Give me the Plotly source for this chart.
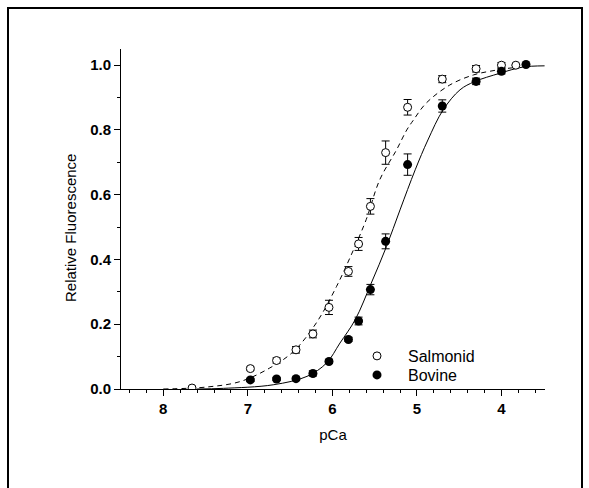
import plotly.graph_objects as go

# ---- data ----
salmonid_pca = [7.66, 6.97, 6.66, 6.43, 6.23, 6.04, 5.81, 5.69, 5.55, 5.37, 5.11, 4.70, 4.30, 4.00, 3.83]
salmonid_val = [0.003, 0.063, 0.088, 0.121, 0.170, 0.252, 0.363, 0.448, 0.564, 0.730, 0.870, 0.957, 0.989, 1.000, 1.000]
salmonid_err = [0.0, 0.005, 0.008, 0.010, 0.012, 0.022, 0.015, 0.020, 0.024, 0.036, 0.024, 0.011, 0.010, 0.008, 0.0]

bovine_pca = [6.97, 6.66, 6.43, 6.23, 6.04, 5.81, 5.69, 5.55, 5.37, 5.11, 4.70, 4.30, 4.00, 3.71]
bovine_val = [0.028, 0.031, 0.032, 0.048, 0.085, 0.153, 0.210, 0.307, 0.456, 0.693, 0.874, 0.950, 0.981, 1.002]
bovine_err = [0.005, 0.005, 0.005, 0.008, 0.006, 0.006, 0.012, 0.016, 0.023, 0.033, 0.019, 0.010, 0.008, 0.0]

# fitted curves
salmonid_fit_pca = [8.00, 7.49, 7.09, 6.74, 6.46, 6.19, 5.95, 5.75, 5.60, 5.44, 5.24, 5.12, 5.04, 4.89, 4.61, 4.33, 4.10, 3.90, 3.80]
salmonid_fit_val = [0.000, 0.006, 0.023, 0.065, 0.116, 0.204, 0.317, 0.430, 0.523, 0.646, 0.739, 0.800, 0.831, 0.883, 0.939, 0.970, 0.983, 0.991, 0.993]

bovine_fit_pca = [7.60, 7.29, 6.70, 6.30, 6.07, 5.91, 5.73, 5.54, 5.36, 5.20, 5.02, 4.87, 4.69, 4.49, 4.32, 4.02, 3.75, 3.49]
bovine_fit_val = [0.000, 0.002, 0.013, 0.039, 0.080, 0.142, 0.214, 0.327, 0.440, 0.553, 0.677, 0.769, 0.862, 0.924, 0.949, 0.975, 0.994, 0.998]

x_ticks = [8, 7, 6, 5, 4]
y_ticks = [0.0, 0.2, 0.4, 0.6, 0.8, 1.0]
y_tick_text = ["0.0", "0.2", "0.4", "0.6", "0.8", "1.0"]

FONT = "Liberation Sans, Arial, sans-serif"

fig = go.Figure()

fig.add_trace(go.Scatter(
    x=salmonid_fit_pca, y=salmonid_fit_val, mode="lines", line_shape="spline",
    line=dict(color="black", width=1, dash="5px,4px"), showlegend=False, hoverinfo="skip"))
fig.add_trace(go.Scatter(
    x=bovine_fit_pca, y=bovine_fit_val, mode="lines", line_shape="spline",
    line=dict(color="black", width=1), showlegend=False, hoverinfo="skip"))

fig.add_trace(go.Scatter(
    x=salmonid_pca, y=salmonid_val, mode="markers", name="Salmonid", legend="legend",
    marker=dict(symbol="circle", size=8, color="white", line=dict(color="black", width=1)),
    error_y=dict(type="data", array=salmonid_err, visible=True, color="black", thickness=1, width=4)))
fig.add_trace(go.Scatter(
    x=bovine_pca, y=bovine_val, mode="markers", name="Bovine", legend="legend2",
    marker=dict(symbol="circle", size=9, color="black", line=dict(color="black", width=0)),
    error_y=dict(type="data", array=bovine_err, visible=True, color="black", thickness=1, width=4)))

L, R, T, B = 121, 44, 49, 99
W, H = 589, 488
pw, ph = W - L - R, H - T - B

def px(x):
    return (x - L) / pw

def py(y):
    return (H - B - y) / ph

legend_common = dict(xanchor="left", yanchor="top", font=dict(size=16, family=FONT),
                     bgcolor="rgba(0,0,0,0)", itemwidth=52, tracegroupgap=0)

fig.update_layout(
    width=W, height=H,
    margin=dict(l=L, r=R, t=T, b=B),
    paper_bgcolor="white", plot_bgcolor="white",
    font=dict(family=FONT, color="black"),
    legend=dict(x=px(346), y=py(339), **legend_common),
    legend2=dict(x=px(346), y=py(358), **legend_common),
    xaxis=dict(range=[8.5, 3.485], tickmode="array", tickvals=x_ticks,
               ticks="outside", ticklen=6, tickwidth=1, tickcolor="black",
               showline=True, linecolor="black", linewidth=1, showgrid=False, zeroline=False,
               tickfont=dict(size=15, family=FONT, weight="bold"),
               minor=dict(dtick=0.2, ticks="outside", ticklen=3, tickcolor="black", tickwidth=1, showgrid=False),
               title=dict(text="pCa", font=dict(size=15, family=FONT), standoff=13)),
    yaxis=dict(range=[0, 1.05], tickmode="array", tickvals=y_ticks, ticktext=y_tick_text,
               ticks="outside", ticklen=6, tickwidth=1, tickcolor="black",
               showline=True, linecolor="black", linewidth=1, showgrid=False, zeroline=False,
               tickfont=dict(size=15, family=FONT, weight="bold"),
               minor=dict(dtick=0.1, ticks="outside", ticklen=3, tickcolor="black", tickwidth=1, showgrid=False)),
    annotations=[dict(text="Relative Fluorescence", textangle=-90, xref="paper", yref="paper",
                      x=px(70), y=py(228), xanchor="center", yanchor="middle", showarrow=False,
                      font=dict(size=15, family=FONT))],
)

# outer frame of the scanned figure
fig.add_shape(type="rect", xref="paper", yref="paper",
              x0=px(8), x1=px(582), y0=py(H + 20), y1=py(8),
              line=dict(color="black", width=2), fillcolor="rgba(0,0,0,0)", layer="below")

fig.write_html("out.html", config={"displayModeBar": False},
               post_script="document.body.style.margin='0';document.body.style.overflow='hidden';")
